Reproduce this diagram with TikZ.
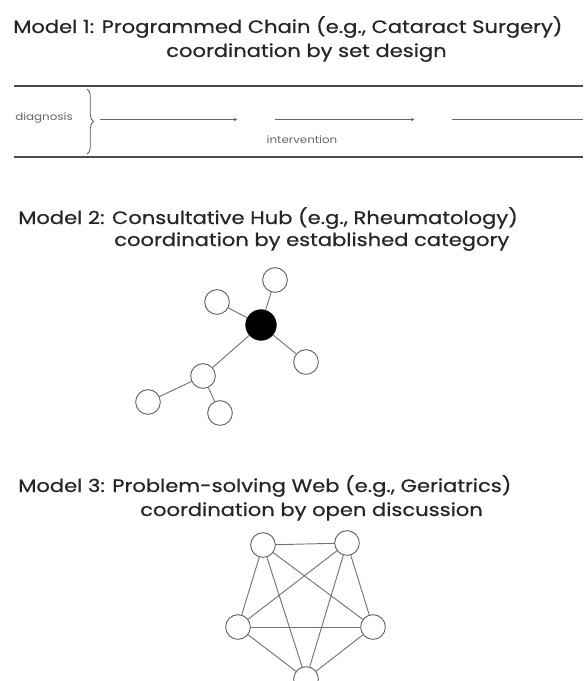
\documentclass[tikz,border=0pt]{standalone}
\usepackage{fontspec}
\setmainfont{Poppins}[FakeStretch=1.17,FakeBold=0.6]
\newfontfamily\lightfont{Poppins}[FakeStretch=1.17]
\usetikzlibrary{decorations.pathreplacing,arrows.meta}
\begin{document}
\begin{tikzpicture}[x=0.75pt,y=-0.75pt,
  title/.style={font=\fontsize{13.5}{15}\selectfont, text=black!85, inner sep=0pt, anchor=base west},
  small/.style={font=\lightfont\fontsize{7.6}{8}\selectfont, text=black!60, inner sep=0pt},
  rule/.style={draw=black!70, line width=0.8pt},
  flow/.style={draw=black!60, line width=0.6pt, -{Latex[length=3pt,width=2.5pt]}},
  wnode/.style={circle, draw=black!60, line width=0.7pt, fill=white, minimum size=18.5pt, inner sep=0pt},
  hub/.style={circle, draw=black, fill=black, minimum size=23pt, inner sep=0pt},
  edge/.style={draw=black!55, line width=0.7pt}]
\useasboundingbox (0,0) rectangle (583,681);
% Model 1
\node[title] (t1a) at (13,33) {Model 1: Programmed Chain (e.g., Cataract Surgery)};
\node[title] (t1b) at (166,57) {coordination by set design};
\coordinate (r1a) at (14,86); \coordinate (r1b) at (583,86);
\coordinate (r2a) at (14,157); \coordinate (r2b) at (583,157);
\draw[rule] (r1a) -- (r1b);
\draw[rule] (r2a) -- (r2b);
\node[small, anchor=base west] (diag) at (15,121) {diagnosis};
\coordinate (bt) at (87,89); \coordinate (bb) at (87,154);
\draw[draw=black!65, line width=0.6pt, decorate, decoration={brace, amplitude=5pt}] (bt) -- (bb);
\coordinate (a1s) at (100,119.5); \coordinate (a1e) at (238,119.5);
\coordinate (a2s) at (275,119.5); \coordinate (a2e) at (415,119.5);
\coordinate (a3s) at (452,119.5); \coordinate (a3e) at (583,119.5);
\draw[flow] (a1s) -- (a1e);
\draw[flow] (a2s) -- (a2e);
\draw[draw=black!60, line width=0.6pt] (a3s) -- (a3e);
\node[small, anchor=base] (interv) at (302,143) {intervention};
% Model 2
\node[title] (t2a) at (18,224) {Model 2: Consultative Hub (e.g., Rheumatology)};
\node[title] (t2b) at (114,246) {coordination by established category};
\node[hub] (h) at (261,325) {};
\node[wnode] (n1) at (275,280) {};
\node[wnode] (n2) at (217,302) {};
\node[wnode] (n3) at (306,362) {};
\node[wnode] (n4) at (203,376) {};
\node[wnode] (n5) at (148,402) {};
\node[wnode] (n6) at (220,413) {};
\draw[edge] (h) -- (n1); \draw[edge] (h) -- (n2); \draw[edge] (h) -- (n3);
\draw[edge] (h) -- (n4); \draw[edge] (n4) -- (n5); \draw[edge] (n4) -- (n6);
% Model 3
\node[title] (t3a) at (18,492) {Model 3: Problem-solving Web (e.g., Geriatrics)};
\node[title] (t3b) at (140,516) {coordination by open discussion};
\node[wnode] (m1) at (263,545) {};
\node[wnode] (m2) at (347,543) {};
\node[wnode] (m3) at (238,627) {};
\node[wnode] (m4) at (373,627) {};
\node[wnode] (m5) at (306,679) {};
\foreach \a/\b in {m1/m2,m1/m3,m1/m4,m1/m5,m2/m3,m2/m4,m2/m5,m3/m4,m3/m5,m4/m5}
  \draw[edge] (\a) -- (\b);
\end{tikzpicture}
\end{document}
